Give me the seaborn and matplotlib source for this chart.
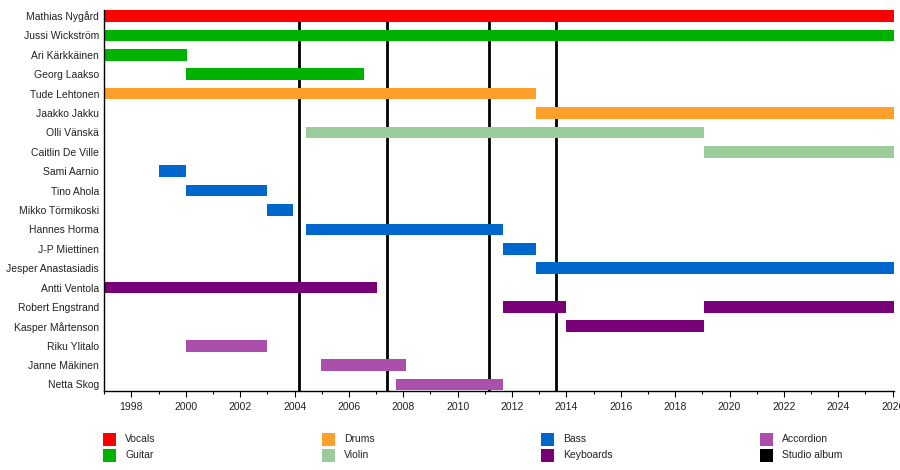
import pandas as pd
import seaborn as sns
import matplotlib.pyplot as plt
from matplotlib.patches import Rectangle
from matplotlib.ticker import MultipleLocator

START = 1997.0
END = 2026.05  # "present"

members = ['Mathias Nygård', 'Jussi Wickström', 'Ari Kärkkäinen', 'Georg Laakso',
           'Tude Lehtonen', 'Jaakko Jakku', 'Olli Vänskä', 'Caitlin De Ville',
           'Sami Aarnio', 'Tino Ahola', 'Mikko Törmikoski', 'Hannes Horma',
           'J-P Miettinen', 'Jesper Anastasiadis', 'Antti Ventola', 'Robert Engstrand',
           'Kasper Mårtenson', 'Riku Ylitalo', 'Janne Mäkinen', 'Netta Skog']

# one entry per membership period
period_member = ['Mathias Nygård', 'Jussi Wickström', 'Ari Kärkkäinen', 'Georg Laakso',
                 'Tude Lehtonen', 'Jaakko Jakku', 'Olli Vänskä', 'Caitlin De Ville',
                 'Sami Aarnio', 'Tino Ahola', 'Mikko Törmikoski', 'Hannes Horma',
                 'J-P Miettinen', 'Jesper Anastasiadis', 'Antti Ventola', 'Robert Engstrand',
                 'Robert Engstrand', 'Kasper Mårtenson', 'Riku Ylitalo', 'Janne Mäkinen',
                 'Netta Skog']
period_start = [START, START, START, 2000.0,
                START, 2012.87, 2004.42, 2019.05,
                1999.02, 2000.0, 2003.0, 2004.42,
                2011.67, 2012.87, START, 2011.67,
                2019.05, 2014.0, 2000.0, 2004.97,
                2007.73]
period_end = [END, END, 2000.05, 2006.56,
              2012.87, END, 2019.05, END,
              2000.0, 2003.0, 2003.94, 2011.67,
              2012.87, END, 2007.03, 2014.0,
              END, 2019.05, 2003.0, 2008.1,
              2011.67]
period_role = ['Vocals', 'Guitar', 'Guitar', 'Guitar',
               'Drums', 'Drums', 'Violin', 'Violin',
               'Bass', 'Bass', 'Bass', 'Bass',
               'Bass', 'Bass', 'Keyboards', 'Keyboards',
               'Keyboards', 'Keyboards', 'Accordion', 'Accordion',
               'Accordion']

albums = [2004.18, 2007.41, 2011.14, 2013.62]

roles = ['Vocals', 'Guitar', 'Drums', 'Violin', 'Bass', 'Keyboards', 'Accordion', 'Studio album']
role_colors = {
    'Vocals': '#FF0000',
    'Guitar': '#00B200',
    'Drums': '#FFA02A',
    'Violin': '#9BCC9B',
    'Bass': '#0066CC',
    'Keyboards': '#770077',
    'Accordion': '#AA50AA',
    'Studio album': '#000000',
}

df = pd.DataFrame({'member': period_member, 'start': period_start,
                   'end': period_end, 'role': period_role})
df['row'] = df['member'].map({m: i for i, m in enumerate(members)})

sns.set_theme(style="white")
plt.rcParams['font.family'] = ['Liberation Sans', 'DejaVu Sans']
plt.rcParams['font.size'] = 7.5

fig = plt.figure(figsize=(9, 4.7), dpi=100)
ax = fig.add_axes([104.2 / 900, 79.5 / 470, (894 - 104.2) / 900, 380.5 / 470])

# studio albums behind the bars
ax.vlines(albums, -0.31, len(members) - 0.69, colors='black', linewidth=2.0, zorder=1)

ax.barh(df['row'], df['end'] - df['start'], left=df['start'], height=0.6,
        color=df['role'].map(role_colors), linewidth=0, zorder=2)

ax.set_xlim(START, END)
ax.set_ylim(len(members) - 0.69, -0.31)
ax.set_yticks(range(len(members)))
ax.set_yticklabels(members, fontsize=7.5, color='#222222')
ax.tick_params(axis='y', length=0, pad=3.8)

ax.xaxis.set_major_locator(MultipleLocator(2))
ax.xaxis.set_minor_locator(MultipleLocator(1))
ax.set_xticks(range(1998, 2027, 2))
ax.tick_params(axis='x', which='major', direction='out', length=4.5, width=0.8,
               color='black', labelsize=7.5, labelcolor='#222222', pad=4, bottom=True)
ax.tick_params(axis='x', which='minor', direction='out', length=2.5, width=0.8,
               color='black', bottom=True)
ax.grid(False)

sns.despine(ax=ax, top=True, right=True)
for side in ['left', 'bottom']:
    ax.spines[side].set_color('black')
    ax.spines[side].set_linewidth(1.0)

# legend: 4 columns, 2 rows, filled column by column
for i, role in enumerate(roles):
    col, line = divmod(i, 2)
    x0 = 103 + col * 219
    y0 = 433 + line * 16
    fig.add_artist(Rectangle((x0 / 900, 1 - (y0 + 12.5) / 470), 12.5 / 900, 12.5 / 470,
                             transform=fig.transFigure, facecolor=role_colors[role],
                             edgecolor='none'))
    fig.text((x0 + 22) / 900, 1 - (y0 + 6.5) / 470, role, fontsize=7.5,
             color='#222222', va='center', ha='left')

fig.savefig('out.png', dpi=100, facecolor='white')
